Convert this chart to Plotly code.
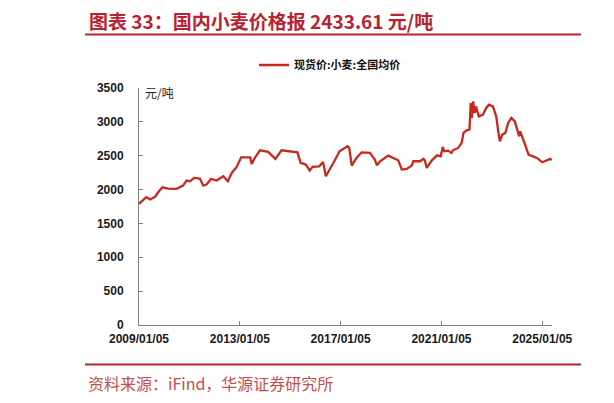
import plotly.graph_objects as go

# 现货价:小麦:全国均价 (元/吨)
dates = [
    "2009-01-05", "2009-03-15", "2009-04-20", "2009-06-15", "2009-08-25", "2009-10-10",
    "2009-12-10", "2010-03-05", "2010-07-05", "2010-10-05", "2010-11-25", "2011-01-15",
    "2011-03-15", "2011-06-05", "2011-07-25", "2011-09-10", "2011-11-15", "2012-02-05",
    "2012-05-10", "2012-07-15", "2012-09-10", "2012-11-20", "2013-01-25", "2013-06-05",
    "2013-06-25", "2013-08-10", "2013-10-25", "2014-02-20", "2014-05-10", "2014-06-05",
    "2014-09-01", "2014-12-20", "2015-04-20", "2015-06-05", "2015-08-20", "2015-10-15",
    "2015-11-25", "2016-03-01", "2016-04-25", "2016-06-05", "2016-07-20", "2016-10-05",
    "2016-12-20", "2017-04-15", "2017-05-10", "2017-06-15", "2017-08-15", "2017-11-05",
    "2018-03-05", "2018-05-15", "2018-06-15", "2018-08-01", "2018-11-25", "2019-04-20",
    "2019-06-10", "2019-08-20", "2019-11-01", "2019-11-25", "2020-03-01", "2020-04-20",
    "2020-05-10", "2020-06-05", "2020-08-20", "2020-11-01", "2020-12-25", "2021-01-25",
    "2021-02-15", "2021-04-10", "2021-05-30", "2021-06-20", "2021-09-05", "2021-10-25",
    "2021-11-20", "2022-01-05", "2022-02-15", "2022-03-05", "2022-03-20", "2022-04-10",
    "2022-05-01", "2022-05-20", "2022-07-01", "2022-08-30", "2022-10-15", "2022-11-25",
    "2023-01-20", "2023-03-10", "2023-04-05", "2023-05-01", "2023-06-05", "2023-07-20",
    "2023-08-30", "2023-10-15", "2023-12-05", "2024-01-10", "2024-02-05", "2024-02-20",
    "2024-03-30", "2024-05-01", "2024-06-20", "2024-08-30", "2024-10-20", "2025-01-05",
    "2025-03-15", "2025-04-30", "2025-05-25",
]
prices = [
    1790, 1853, 1887, 1853, 1892, 1960,
    2034, 2015, 2010, 2059, 2133, 2122,
    2172, 2162, 2059, 2074, 2157, 2133,
    2196, 2122, 2246, 2335, 2476, 2476,
    2379, 2467, 2580, 2556, 2480, 2453,
    2580, 2565, 2550, 2394, 2369, 2280,
    2335, 2344, 2409, 2196, 2270, 2418,
    2565, 2639, 2615, 2354, 2457, 2550,
    2541, 2442, 2358, 2418, 2501, 2432,
    2295, 2305, 2354, 2418, 2418, 2453,
    2428, 2320, 2432, 2506, 2491, 2630,
    2565, 2575, 2541, 2580, 2615, 2689,
    2836, 2875, 2885, 3279, 3058, 3302,
    3131, 3229, 3081, 3106, 3205, 3254,
    3229, 3081, 2885, 2712, 2811, 2836,
    2984, 3058, 3007, 2860, 2786, 2860,
    2737, 2664, 2516, 2491, 2467, 2403,
    2428, 2453, 2433.61,
]
x_ticks = ["2009-01-05", "2013-01-05", "2017-01-05", "2021-01-05", "2025-01-05"]
x_tick_text = ["2009/01/05", "2013/01/05", "2017/01/05", "2021/01/05", "2025/01/05"]
y_ticks = [0, 500, 1000, 1500, 2000, 2500, 3000, 3500]

# the page body has an 8px margin, so the figure sits 8px in from the corner
OFF = 8
W, H = 614 - OFF, 403 - OFF
L, R, T, B = 139 - OFF, 62, 88 - OFF, 78
red = "#b8232f"
cjk = "Noto Sans CJK SC"
tick_font = dict(family="Liberation Sans, Arial", size=12, color="#1a1a1a", weight="bold")


def px(x):
    # page pixel -> paper coords
    return (x - OFF - L) / (W - L - R)


def py(y):
    return (H - B - (y - OFF)) / (H - T - B)


fig = go.Figure()
fig.add_trace(go.Scatter(
    x=dates, y=prices, mode="lines", name="现货价:小麦:全国均价",
    line=dict(color="#c8281e", width=2.3),
))

fig.update_layout(
    width=W, height=H,
    margin=dict(l=L, r=R, t=T, b=B),
    paper_bgcolor="white", plot_bgcolor="white",
    showlegend=True,
    legend=dict(
        orientation="h", x=px(254), y=py(65), xanchor="left", yanchor="middle",
        font=dict(family=cjk, size=11, color="#111", weight="bold"),
        itemwidth=30, bgcolor="rgba(0,0,0,0)",
    ),
    xaxis=dict(
        type="date", range=["2009-01-05", "2025-05-26"],
        tickvals=x_ticks, ticktext=x_tick_text,
        showgrid=False, zeroline=False,
        showline=True, linecolor="#7f7f7f", linewidth=1,
        ticks="inside", ticklen=4, tickcolor="#7f7f7f",
        ticklabelstandoff=3,
        tickfont=tick_font,
    ),
    yaxis=dict(
        range=[0, 3500], tickvals=y_ticks,
        showgrid=False, zeroline=False,
        showline=True, linecolor="#7f7f7f", linewidth=1,
        ticks="inside", ticklen=4, tickcolor="#7f7f7f",
        ticklabelstandoff=12,
        tickfont=tick_font,
    ),
)

# title, red rules, source
fig.add_annotation(
    text="图表 33：国内小麦价格报 2433.61 元/吨", xref="paper", yref="paper",
    x=px(87), y=py(21), xanchor="left", yanchor="middle", showarrow=False,
    font=dict(family=cjk, size=19, color=red, weight="bold"),
)
fig.add_annotation(
    text="图", xref="paper", yref="paper",
    x=px(609), y=py(21), xanchor="left", yanchor="middle", showarrow=False,
    font=dict(family=cjk, size=19, color=red, weight="bold"),
)
fig.add_annotation(
    text="元/吨", xref="paper", yref="paper",
    x=px(143), y=py(92), xanchor="left", yanchor="middle", showarrow=False,
    font=dict(family=cjk, size=12, color="#222"),
)
fig.add_annotation(
    text="资料来源：iFind，华源证券研究所", xref="paper", yref="paper",
    x=px(86), y=py(383), xanchor="left", yanchor="middle", showarrow=False,
    font=dict(family=cjk, size=16, color="#c0504d"),
)
fig.add_annotation(
    text="资", xref="paper", yref="paper",
    x=px(609), y=py(383), xanchor="left", yanchor="middle", showarrow=False,
    font=dict(family=cjk, size=16, color="#c0504d"),
)
for x0, x1 in [(85, 581), (609, 640)]:
    fig.add_shape(type="line", xref="paper", yref="paper",
                  x0=px(x0), x1=px(x1), y0=py(34.5), y1=py(34.5),
                  line=dict(color=red, width=2))
    fig.add_shape(type="line", xref="paper", yref="paper",
                  x0=px(x0), x1=px(x1), y0=py(364.5), y1=py(364.5),
                  line=dict(color=red, width=2))

fig.write_html("out.html")
